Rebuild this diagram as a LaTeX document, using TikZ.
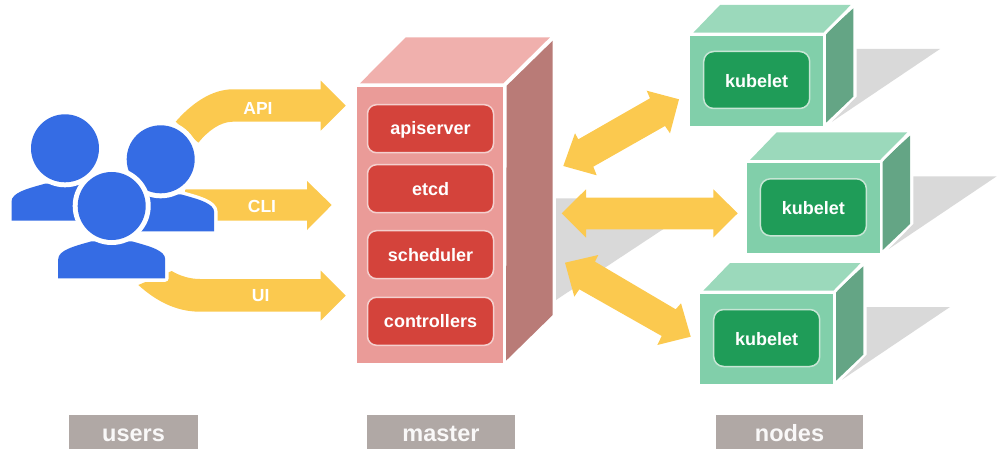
\documentclass[tikz,border=0pt]{standalone}
\usepackage{fontspec}
\setmainfont{Liberation Sans}
\definecolor{arrowy}{HTML}{FBC94F}
\definecolor{userb}{HTML}{356CE4}
\definecolor{mfront}{HTML}{EA9B98}
\definecolor{mtop}{HTML}{F0B0AD}
\definecolor{mside}{HTML}{B97B77}
\definecolor{mbox}{HTML}{D4433B}
\definecolor{nfront}{HTML}{81CFAA}
\definecolor{ntop}{HTML}{9BD9BB}
\definecolor{nside}{HTML}{64A585}
\definecolor{nbox}{HTML}{1F9C58}
\definecolor{shadowgrey}{HTML}{D9D9D9}
\definecolor{capgrey}{HTML}{B0A8A5}
\tikzset{
  x=1pt,y=-1pt,
  blockarrow/.style={fill=arrowy,draw=none},
  arrowtext/.style={text=white,font=\bfseries\fontsize{17.5}{20}\selectfont,inner sep=0pt,text height=13pt,text depth=0pt},
  whiteedge/.style={draw=white,line width=1.8pt,line join=round},
  mastercell/.style={fill=mbox,draw=white!75!mbox,line width=1.5pt,rounded corners=9pt,text=white,
     font=\bfseries\fontsize{18}{20}\selectfont,minimum width=126pt,minimum height=48pt,inner sep=0pt,
     text height=14pt,text depth=1.4pt},
  kubebox/.style={fill=nbox,draw=white!75!nbox,line width=1.5pt,rounded corners=10pt,text=white,
     font=\bfseries\fontsize{18}{20}\selectfont,minimum width=106pt,minimum height=57pt,inner sep=0pt,
     text height=15pt,text depth=0.4pt},
  captionbox/.style={fill=capgrey,text=white!92!capgrey,font=\bfseries\fontsize{23.5}{26}\selectfont,
     minimum height=34pt,inner sep=0pt,text height=18pt,text depth=0pt},
}
\newcommand{\personshape}[3]{% cx, head cy, bottom y
  \path[draw=white,line width=7pt,line join=round]
    (#1-53.5,#3) -- (#1-53.5,#3-19) .. controls (#1-53.5,#3-28) and (#1-38,#3-32) .. (#1-20,#3-37)
    -- (#1+20,#3-37) .. controls (#1+38,#3-32) and (#1+53.5,#3-28) .. (#1+53.5,#3-19) -- (#1+53.5,#3) -- cycle;
  \fill[userb]
    (#1-53.5,#3) -- (#1-53.5,#3-19) .. controls (#1-53.5,#3-28) and (#1-38,#3-32) .. (#1-20,#3-37)
    -- (#1+20,#3-37) .. controls (#1+38,#3-32) and (#1+53.5,#3-28) .. (#1+53.5,#3-19) -- (#1+53.5,#3) -- cycle;
  \fill[white] (#1,#2) circle (39);
  \fill[userb] (#1,#2) circle (34);
}
\newcommand{\kubenode}[3]{% dx, dy, name
  \begin{scope}[shift={(#1,#2)}]
    \fill[shadowgrey] (856.7,49) -- (940,49) -- (832,121.7) -- (856.7,96.7) -- cycle;
    \fill[nside] (826,33.3) -- (853.3,8.3) -- (853.3,96.7) -- (826,122.7) -- cycle;
    \fill[ntop] (693.3,32.7) -- (720,5) -- (850.7,5) -- (823.3,32.7) -- cycle;
    \fill[nfront] (690,36) rectangle (823.3,125.7);
    \draw[whiteedge] (690,34.3) -- (824.7,34.3) -- (824.7,125.7);
    \draw[whiteedge] (824.7,34.3) -- (852,6.5);
    \node[kubebox] (#3) at (756.7,80) {kubelet};
  \end{scope}
}
\begin{document}
\begin{tikzpicture}
\useasboundingbox (0,0) rectangle (1000,457);
% master shadow
\fill[shadowgrey] (556,198.3) -- (710,198.3) -- (556,300) -- cycle;
% user arrows
\fill[blockarrow] (175.7,121.7) .. controls (192,103) and (212,89.3) .. (233,89.3)
  -- (320.7,89.3) -- (320.7,80.7) -- (345.7,105.7) -- (320.7,130.7) -- (320.7,121.7)
  -- (233,121.7) .. controls (220,121.7) and (208,131) .. (198.3,142.7) -- cycle;
\fill[blockarrow] (185,189.3) -- (307,189.3) -- (307,181) -- (331.7,205) -- (307,230)
  -- (307,220.7) -- (185,220.7) -- cycle;
\fill[blockarrow] (171.7,271) .. controls (180,276) and (190,279) .. (200,279)
  -- (320.7,279) -- (320.7,270.7) -- (345.7,295.7) -- (320.7,320.7) -- (320.7,311.7)
  -- (200,311.7) .. controls (175,311.7) and (155,300) .. (138.3,285) -- cycle;
\node[arrowtext] (apilabel) at (258,107.7) {API};
\node[arrowtext] (clilabel) at (262,206) {CLI};
\node[arrowtext] (uilabel) at (260.7,295) {UI};
% users
\personshape{65}{148.3}{220.7}
\personshape{160.7}{159.3}{231.3}
\personshape{111.7}{206}{278.3}
% master
\fill[mside] (506.7,85.7) -- (552.7,40.7) -- (552.7,315) -- (506,360.7) -- cycle;
\fill[mtop] (360,83.3) -- (405.7,37.3) -- (550,37.3) -- (503.3,83.3) -- cycle;
\fill[mfront] (356.7,86.7) rectangle (503.3,362.7);
\draw[whiteedge] (356.7,85) -- (505,85) -- (505,362);
\draw[whiteedge] (505,85) -- (551.5,39);
\node[mastercell] (apiserver) at (430.5,128.7) {apiserver};
\node[mastercell] (etcd) at (430.5,188.7) {etcd};
\node[mastercell] (scheduler) at (430.5,254.7) {scheduler};
\node[mastercell] (controllers) at (430.5,321.3) {controllers};
% node arrows
\fill[blockarrow] (563.3,166) -- (575,133.3) -- (578.3,139.3) -- (650,98.3) -- (646.7,90.7)
  -- (679,99.3) -- (670,133.3) -- (665,126) -- (593.3,166.7) -- (596.7,175.3) -- cycle;
\fill[blockarrow] (561.7,213.3) -- (586,189.3) -- (586,197.7) -- (713.3,197.7) -- (713.3,189.3)
  -- (737.7,213.3) -- (713.3,237.5) -- (713.3,229.3) -- (586,229.3) -- (586,237.7) -- cycle;
\fill[blockarrow] (565,262.7) -- (598.3,255) -- (595,261.7) -- (675.7,309.3) -- (681,303.3)
  -- (690.7,336.7) -- (657.3,345) -- (661.7,336) -- (579.3,289.3) -- (574.3,296.7) -- cycle;
% nodes
\kubenode{0}{0}{kubeA}
\kubenode{56.7}{127.3}{kubeB}
\kubenode{10}{258}{kubeC}
% captions
\node[captionbox,minimum width=129pt] (userscap) at (133.5,432) {users};
\node[captionbox,minimum width=148pt] (mastercap) at (441,432) {master};
\node[captionbox,minimum width=147pt] (nodescap) at (789.5,432) {nodes};
\end{tikzpicture}
\end{document}
